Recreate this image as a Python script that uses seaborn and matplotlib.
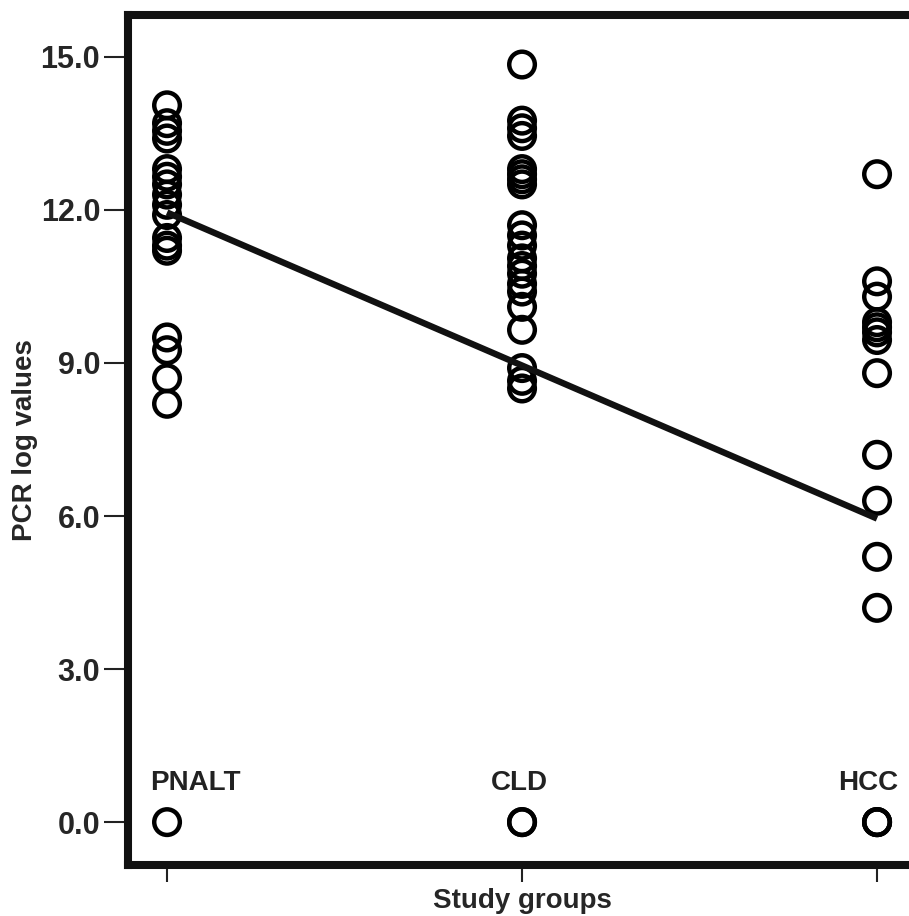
import pandas as pd
import seaborn as sns
import matplotlib.pyplot as plt

# values
groups = ["PNALT", "CLD", "HCC"]
pnalt = [14.05, 13.7, 13.55, 13.4, 12.8, 12.65, 12.5, 12.3, 12.1, 11.9,
         11.45, 11.3, 11.2, 9.5, 9.25, 8.7, 8.2, 0.0]
cld = [14.85, 13.75, 13.6, 13.45, 12.8, 12.7, 12.6, 12.5, 11.7, 11.5, 11.3,
       11.05, 10.9, 10.75, 10.55, 10.4, 10.1, 9.65, 8.9, 8.65, 8.5, 0.0, 0.0]
hcc = [12.7, 10.6, 10.3, 9.8, 9.7, 9.6, 9.45, 8.8, 7.2, 6.3, 5.2, 4.2,
       0.0, 0.0, 0.0]
trend = [11.95, 8.95, 5.95]
yticks = [0, 3, 6, 9, 12, 15]

rows = []
for i, (g, vals) in enumerate(zip(groups, [pnalt, cld, hcc])):
    for v in vals:
        rows.append((g, i, v))
df = pd.DataFrame(rows, columns=["group", "pos", "pcr"])
trend_df = pd.DataFrame({"pos": range(len(groups)), "pcr": trend})

sns.set_style("white")
plt.rcParams["font.family"] = ["Liberation Sans", "DejaVu Sans"]
plt.rcParams["font.weight"] = "bold"

fig = plt.figure(figsize=(9.09, 9.16), dpi=100)
ax = fig.add_axes([0.1408, 0.0557, 0.867, 0.9279])

sns.scatterplot(data=df, x="pos", y="pcr", marker="o", s=340,
                facecolors="none", edgecolor="black", linewidth=3.2,
                ax=ax, zorder=2)
sns.lineplot(data=trend_df, x="pos", y="pcr", color="#111111", lw=4.6,
             ax=ax, zorder=3, solid_capstyle="butt")

# group names drawn inside the plot, as in the original
name_offsets = [0.08, -0.008, -0.025]
for i, g in enumerate(groups):
    ax.text(i + name_offsets[i], 0.76, g, ha="center", va="center",
            fontsize=20, fontweight="bold", color="#222222")

ax.set_xlim(-0.11, 2.11)
ax.set_ylim(-0.84, 15.82)
ax.set_xticks(range(len(groups)))
ax.set_xticklabels([])
ax.set_yticks(yticks)
ax.set_yticklabels([f"{t:.1f}" for t in yticks])
ax.tick_params(axis="y", direction="out", length=17, width=1.5,
               labelsize=22, pad=3, color="#222222", left=True)
ax.tick_params(axis="x", direction="out", length=12, width=1.5,
               color="#222222", bottom=True)
for lab in ax.get_yticklabels():
    lab.set_fontweight("bold")

for side in ["left", "bottom", "top"]:
    ax.spines[side].set_linewidth(5.8)
    ax.spines[side].set_color("#111111")
ax.spines["right"].set_visible(False)

ax.set_xlabel("Study groups", fontsize=20, fontweight="bold", labelpad=1)
ax.set_ylabel("PCR log values", fontsize=20, fontweight="bold", labelpad=2)

fig.savefig("out.png", dpi=100)
